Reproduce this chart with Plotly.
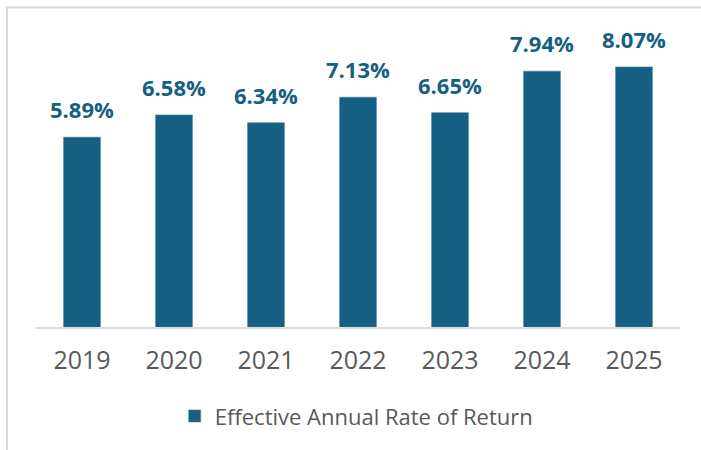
import plotly.graph_objects as go

years = ["2019", "2020", "2021", "2022", "2023", "2024", "2025"]
rates = [5.89, 6.58, 6.34, 7.13, 6.65, 7.94, 8.07]
series_name = "Effective Annual Rate of Return"

BAR = "#156082"
FONT = "Open Sans, Roboto, Arial, sans-serif"

fig = go.Figure()
fig.add_trace(go.Bar(
    x=years, y=rates, name=series_name,
    marker=dict(color=BAR, line=dict(color="#3f7f9c", width=0.6)),
    width=0.4,
    hoverinfo="skip",
))

for i, v in enumerate(rates):
    fig.add_annotation(
        x=i, y=v, text=f"<b>{v:.2f}%</b>", showarrow=False,
        yanchor="bottom", yshift=11,
        font=dict(family=FONT, size=22, color=BAR),
    )

L, R, T, B = 36, 21, 37, 122.5
W, H = 701, 450
pw, ph = W - L - R, H - T - B
bx = (7 - L) / pw
by = (327.5 - 7.5) / ph
fig.add_shape(type="rect", xref="paper", yref="paper",
              x0=bx, x1=1.2, y0=-0.6, y1=by,
              line=dict(color="#d9d9d9", width=2), layer="below")

fig.update_layout(
    width=W, height=H,
    margin=dict(l=L, r=R, t=T, b=B),
    paper_bgcolor="white", plot_bgcolor="white",
    showlegend=True,
    legend=dict(orientation="h", x=0.498, xanchor="center", y=-0.235, yanchor="top",
                font=dict(family=FONT, size=22, color="#595959"),
                itemclick=False),
    xaxis=dict(type="category", range=[-0.5, len(years) - 0.5],
               showline=True, linecolor="#d9d9d9", linewidth=1.5,
               tickfont=dict(family=FONT, size=25, color="#595959"),
               ticklabelstandoff=10,
               ticks="", showgrid=False),
    yaxis=dict(range=[0, 9], visible=False, showgrid=False),
    bargap=0.6,
)

fig.write_html("out.html", config={"displayModeBar": False},
               post_script="document.body.style.margin='0';document.body.style.overflow='hidden';")
